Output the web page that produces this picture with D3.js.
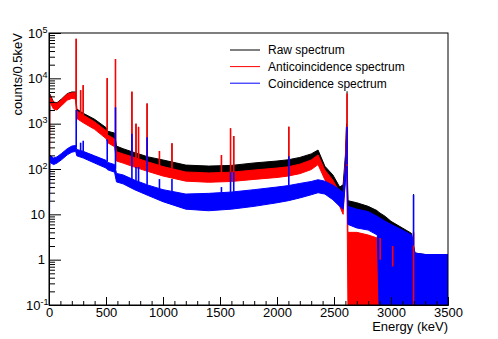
<!DOCTYPE html>
<html>
<head>
<meta charset="utf-8">
<script src="https://cdn.jsdelivr.net/npm/d3@7"></script>
<style>
  body { margin: 0; background: #fff; }
  svg { display: block; font-family: "Liberation Sans", Arial, sans-serif; }
</style>
</head>
<body>
<div class="chart"></div>
<script>
const energy = [0, 8, 40, 70, 110, 160, 200, 234, 244, 300, 400, 500, 515, 575, 592, 650, 750, 870, 1000, 1200, 1400, 1600, 1800, 2000, 2100, 2200, 2300, 2360, 2420, 2490, 2550, 2580, 2600, 2610, 2622, 2700, 2800, 2880, 2895, 2950, 3000, 3100, 3180, 3210, 3300, 3400, 3500]

// raw spectrum band (top / bottom of noise)
const rawHi = [4500, 4500, 3000, 2900, 3500, 4600, 5000, 5000, 2100, 1700, 1250, 820, 680, 620, 320, 280, 230, 185, 158, 122, 116, 120, 136, 150, 160, 180, 215, 262, 115, 74, 40, 45, 200, 1000, 20, 18, 15, 12, 11, 9, 7, 5, 3.8, 1.4, 1.3, 1.3, 1.3]
const rawLo = [0.1, 3300, 2300, 2200, 2700, 3600, 4000, 3900, 1500, 1200, 900, 600, 480, 430, 210, 190, 155, 125, 105, 82, 78, 82, 92, 102, 110, 122, 145, 180, 78, 50, 26, 25, 100, 500, 9, 8, 6, 5, 4, 3.5, 3, 2, 1.5, 0.1, 0.1, 0.1, 0.1]

// anticoincidence band
const antiHi = [4300, 4300, 2900, 2800, 3400, 4500, 4800, 4800, 1900, 1550, 1100, 700, 560, 460, 240, 215, 180, 143, 113, 86, 82, 85, 95, 105, 112, 128, 158, 204, 95, 57, 30, 25, 160, 900, 4, 4, 3.5, 3, 1, 1, 1, 0.1, 0.1, 0.1, 0.1, 0.1, 0.1]
const antiLo = [0.1, 3000, 2100, 2000, 2500, 3300, 3600, 3500, 1300, 1050, 750, 470, 380, 310, 150, 135, 110, 88, 70, 54, 51, 53, 59, 65, 70, 79, 97, 125, 58, 34, 15, 10, 80, 400, 0.1, 0.1, 0.1, 0.1, 0.1, 0.1, 0.1, 0.1, 0.1, 0.1, 0.1, 0.1, 0.1]

// coincidence band
const coincHi = [190, 200, 175, 185, 220, 280, 320, 330, 270, 245, 195, 155, 140, 125, 80, 74, 57, 44, 35, 28, 29, 31, 35, 40, 43, 48, 53, 58, 54, 44, 35, 30, 110, 450, 15, 13, 11.5, 9, 8.5, 7, 6, 4.5, 3.5, 1.4, 1.3, 1.3, 1.3]
const coincLo = [0.1, 140, 125, 135, 160, 205, 235, 245, 195, 175, 135, 105, 96, 85, 52, 47, 35, 26, 19, 13, 12, 13, 15, 18, 20, 23, 27, 30, 28, 21, 15, 13, 50, 200, 6, 5, 4.5, 3.5, 0.1, 0.1, 0.1, 0.1, 0.1, 0.1, 0.1, 0.1, 0.1]

// gamma lines (keV) and their tops for each spectrum
const peakEnergy = [238.6, 277.4, 300.1, 510.8, 583.2, 727.3, 763.1, 785.4, 860.6, 968.9, 1078.6, 1512.7, 1592.5, 1620.5, 2103.5, 2614.5, 2905, 3015, 3197.7]
const rawPeak = [74000, 5400, 7000, 10000, 26000, 5000, 1000, 850, 2800, 250, 370, 200, 790, 530, 850, 5200, null, null, 28]
const antiPeak = [75000, 5500, 7100, 10200, 26700, 5100, 1000, 850, 2800, 250, 370, 204, 790, 535, 860, 4600, 3, 2, 4]
const coincPeak = [2000, 380, 420, 450, 2300, 600, 110, 110, 500, 60, 60, 40, 85, 85, 190, 850, null, null, 27]

const seriesNames = ['Raw spectrum', 'Anticoincidence spectrum', 'Coincidence spectrum']
const seriesColors = ['#000000', '#ff0000', '#0000ff']

const xTicks = [0, 500, 1000, 1500, 2000, 2500, 3000, 3500]
const yTicks = [0.1, 1, 10, 100, 1000, 10000, 100000]

const width = 498
const height = 339
const margin = { top: 33, right: 50, bottom: 34, left: 49 }

const svg = d3.select('.chart').append('svg')
  .attr('width', width)
  .attr('height', height)

const x = d3.scaleLinear().domain([0, 3500]).range([margin.left, width - margin.right])
const y = d3.scaleLog().domain([0.1, 1e5]).range([height - margin.bottom, margin.top])

svg.append('clipPath').attr('id', 'plot')
  .append('rect')
  .attr('x', x(0)).attr('y', y(1e5))
  .attr('width', x(3500) - x(0)).attr('height', y(0.1) - y(1e5))

const plot = svg.append('g').attr('clip-path', 'url(#plot)')

const series = [
  { hi: rawHi, lo: rawLo, peaks: rawPeak, w: 1 },
  { hi: antiHi, lo: antiLo, peaks: antiPeak, w: 1.6 },
  { hi: coincHi, lo: coincLo, peaks: coincPeak, w: 1.6 }
]

// band top at a given energy, interpolated in log space between knots
function bandTop(arr, e) {
  let i = d3.bisectRight(energy, e) - 1
  i = Math.max(0, Math.min(i, energy.length - 2))
  const t = (e - energy[i]) / (energy[i + 1] - energy[i])
  const a = Math.log10(arr[i]), b = Math.log10(arr[i + 1])
  return Math.pow(10, a + t * (b - a))
}

const area = (s) => d3.area()
  .x((d, i) => x(energy[i]))
  .y0((d, i) => y(s.lo[i]))
  .y1((d, i) => y(s.hi[i]))

series.forEach((s, k) => {
  plot.append('path')
    .datum(energy)
    .attr('d', area(s))
    .attr('fill', seriesColors[k])
    .attr('stroke', seriesColors[k])
    .attr('stroke-width', 1)
    .attr('stroke-linejoin', 'round')
})

series.forEach((s, k) => {
  const pk = peakEnergy.map((e, i) => ({ e, v: s.peaks[i] })).filter(d => d.v != null)
  plot.selectAll(null)
    .data(pk)
    .enter().append('line')
    .attr('x1', d => x(d.e)).attr('x2', d => x(d.e))
    .attr('y1', d => y(bandTop(s.hi, d.e)))
    .attr('y2', d => y(d.v))
    .attr('stroke', seriesColors[k])
    .attr('stroke-width', s.w)
})

// frame
svg.append('rect')
  .attr('x', x(0)).attr('y', y(1e5))
  .attr('width', x(3500) - x(0)).attr('height', y(0.1) - y(1e5))
  .attr('fill', 'none').attr('stroke', '#000').attr('stroke-width', 1)

// x axis, ticks pointing inward
const xMinor = d3.range(0, 3501, 100)
svg.append('g')
  .attr('transform', `translate(0, ${y(0.1)})`)
  .call(d3.axisBottom(x).tickValues(xMinor).tickSizeInner(-4).tickSizeOuter(0).tickFormat(''))
svg.append('g')
  .attr('transform', `translate(0, ${y(0.1)})`)
  .call(d3.axisBottom(x).tickValues(xTicks).tickSizeInner(-8).tickSizeOuter(0).tickPadding(3).tickFormat(d3.format('d')))
  .call(g => g.selectAll('text').attr('font-size', 13).attr('font-family', 'Liberation Sans, Arial, sans-serif').attr('fill', '#000'))

// y axis
const yMinor = []
yTicks.slice(0, -1).forEach(t => { for (let m = 2; m <= 9; m++) yMinor.push(t * m) })
svg.append('g')
  .attr('transform', `translate(${x(0)}, 0)`)
  .call(d3.axisLeft(y).tickValues(yMinor).tickSizeInner(-6).tickSizeOuter(0).tickFormat(''))
svg.append('g')
  .attr('transform', `translate(${x(0)}, 0)`)
  .call(d3.axisLeft(y).tickValues(yTicks).tickSizeInner(-12).tickSizeOuter(0).tickFormat(''))
svg.selectAll('.domain').attr('stroke', '#000')
svg.selectAll('.tick line').attr('stroke', '#000')

const yLab = svg.append('g').attr('font-size', 13).attr('fill', '#000')
yTicks.forEach(t => {
  const exp = Math.round(Math.log10(t))
  if (exp === 0 || exp === 1) {
    yLab.append('text').attr('x', 45).attr('y', y(t) + 4.5)
      .attr('text-anchor', 'end').text(exp === 0 ? '1' : '10')
  } else {
    const txt = yLab.append('text').attr('x', exp < 0 ? 48.5 : 47.5).attr('y', y(t) + 4.5).attr('text-anchor', 'end')
    txt.append('tspan').text('10')
    txt.append('tspan').attr('dy', -5).attr('font-size', 9).text(String(exp))
  }
})

// axis titles
svg.append('text')
  .attr('x', x(3500)).attr('y', 331)
  .attr('text-anchor', 'end').attr('font-size', 13)
  .text('Energy (keV)')
svg.append('text')
  .attr('transform', `translate(22, ${y(1e5)}) rotate(-90)`)
  .attr('text-anchor', 'end').attr('font-size', 13)
  .text('counts/0.5keV')

// legend
const legend = svg.append('g').attr('font-size', 12)
seriesNames.forEach((name, i) => {
  const ly = 50 + i * 16.6
  legend.append('line')
    .attr('x1', 230).attr('x2', 260).attr('y1', ly).attr('y2', ly)
    .attr('stroke', seriesColors[i]).attr('stroke-width', 1)
  legend.append('text').attr('x', 268).attr('y', ly + 4.3).text(name)
})
</script>
</body>
</html>
